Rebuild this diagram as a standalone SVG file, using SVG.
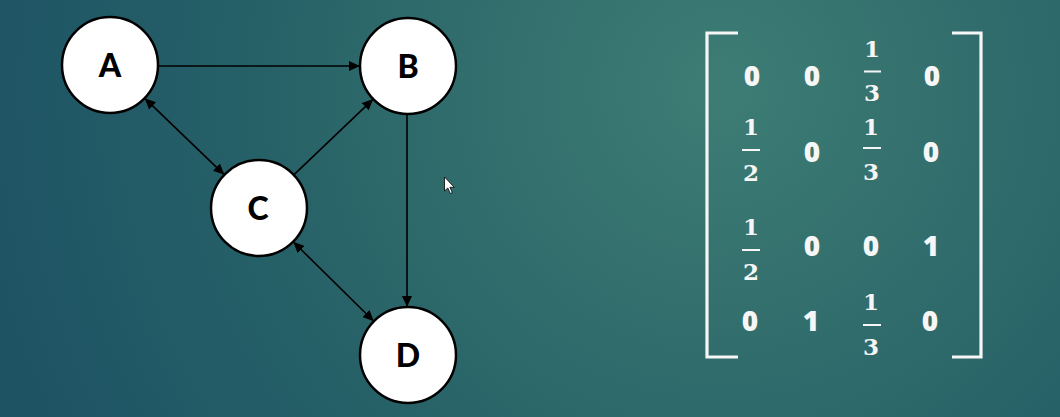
<svg xmlns="http://www.w3.org/2000/svg" width="1060" height="417" viewBox="0 0 1060 417">
<defs>
<radialGradient id="bg" gradientUnits="userSpaceOnUse" cx="720" cy="90" r="760">
<stop offset="0" stop-color="#3d7d75"/>
<stop offset="0.3" stop-color="#336f6d"/>
<stop offset="0.65" stop-color="#255f67"/>
<stop offset="1" stop-color="#1e5364"/>
</radialGradient>
<marker id="arr" markerUnits="userSpaceOnUse" markerWidth="12" markerHeight="10" refX="11" refY="5" orient="auto-start-reverse" viewBox="0 0 12 10">
<path d="M0,0 L11,5 L0,10 Z" fill="#000"/>
</marker>
<style>
.node circle{fill:#fff;stroke:#000;stroke-width:2.5}
.node text{font-family:Lato,"Liberation Sans",sans-serif;font-weight:900;font-size:32px;fill:#000;text-anchor:middle}
.edge{stroke:#000;stroke-width:1.6;fill:none}
.m{font-family:"Open Sans","Liberation Sans",sans-serif;font-weight:800;font-size:28px;fill:#f6f6f6;text-anchor:middle}
.f{font-family:"DejaVu Serif","Liberation Serif",serif;font-weight:700;font-size:23px;fill:#f6f6f6;text-anchor:middle}
.bar{stroke:#f6f6f6;stroke-width:2}
.br{stroke:#f6f6f6;stroke-width:3.2;fill:none}
</style>
</defs>
<rect x="0" y="0" width="1060" height="417" fill="url(#bg)"/>

<g id="connectors">
<line class="edge" x1="158" y1="66" x2="360" y2="66" marker-end="url(#arr)"/>
<line class="edge" x1="407" y1="114" x2="407" y2="307" marker-end="url(#arr)"/>
<line class="edge" x1="144.6" y1="98.2" x2="224.4" y2="174.8" marker-start="url(#arr)" marker-end="url(#arr)"/>
<line class="edge" x1="293.8" y1="174.9" x2="373.2" y2="99.1" marker-end="url(#arr)"/>
<line class="edge" x1="293.2" y1="241.7" x2="373.8" y2="321.3" marker-start="url(#arr)" marker-end="url(#arr)"/>
</g>

<g id="node-A" class="node"><circle cx="110" cy="65" r="48"/><text x="110" y="77">A</text></g>
<g id="node-B" class="node"><circle cx="408" cy="66" r="48"/><text x="408" y="78">B</text></g>
<g id="node-C" class="node"><circle cx="259" cy="208" r="48"/><text x="258" y="220">C</text></g>
<g id="node-D" class="node"><circle cx="408" cy="355" r="48"/><text x="408" y="367">D</text></g>

<g id="matrix">
<path class="br" d="M738,33 H707 V357 H738"/>
<path class="br" d="M952,33 H981 V357 H952"/>
<!-- row 1 -->
<text class="m" x="752" y="86">0</text>
<text class="m" x="812" y="86">0</text>
<text class="f" x="872" y="57">1</text><line class="bar" x1="864" y1="71.5" x2="881" y2="71.5"/><text class="f" x="872" y="101">3</text>
<text class="m" x="932" y="86">0</text>
<!-- row 2 -->
<text class="f" x="751" y="135">1</text><line class="bar" x1="742" y1="150" x2="760" y2="150"/><text class="f" x="751" y="181">2</text>
<text class="m" x="812" y="162">0</text>
<text class="f" x="871" y="135">1</text><line class="bar" x1="863" y1="148" x2="881" y2="148"/><text class="f" x="871" y="180">3</text>
<text class="m" x="931" y="162">0</text>
<!-- row 3 -->
<text class="f" x="751" y="235">1</text><line class="bar" x1="742" y1="250" x2="760" y2="250"/><text class="f" x="751" y="280">2</text>
<text class="m" x="812" y="256">0</text>
<text class="m" x="871" y="256">0</text>
<text class="m" x="931" y="256">1</text>
<!-- row 4 -->
<text class="m" x="750" y="331">0</text>
<text class="m" x="811" y="331">1</text>
<text class="f" x="871" y="310">1</text><line class="bar" x1="863" y1="325" x2="881" y2="325"/><text class="f" x="871" y="355">3</text>
<text class="m" x="930" y="331">0</text>
</g>

<path id="cursor" d="M444.5,177 L444.5,191 L447.8,188 L450.3,193.5 L452.3,192.6 L449.9,187.3 L454.3,187.3 Z" fill="#fff" stroke="#000" stroke-width="0.8"/>
</svg>
